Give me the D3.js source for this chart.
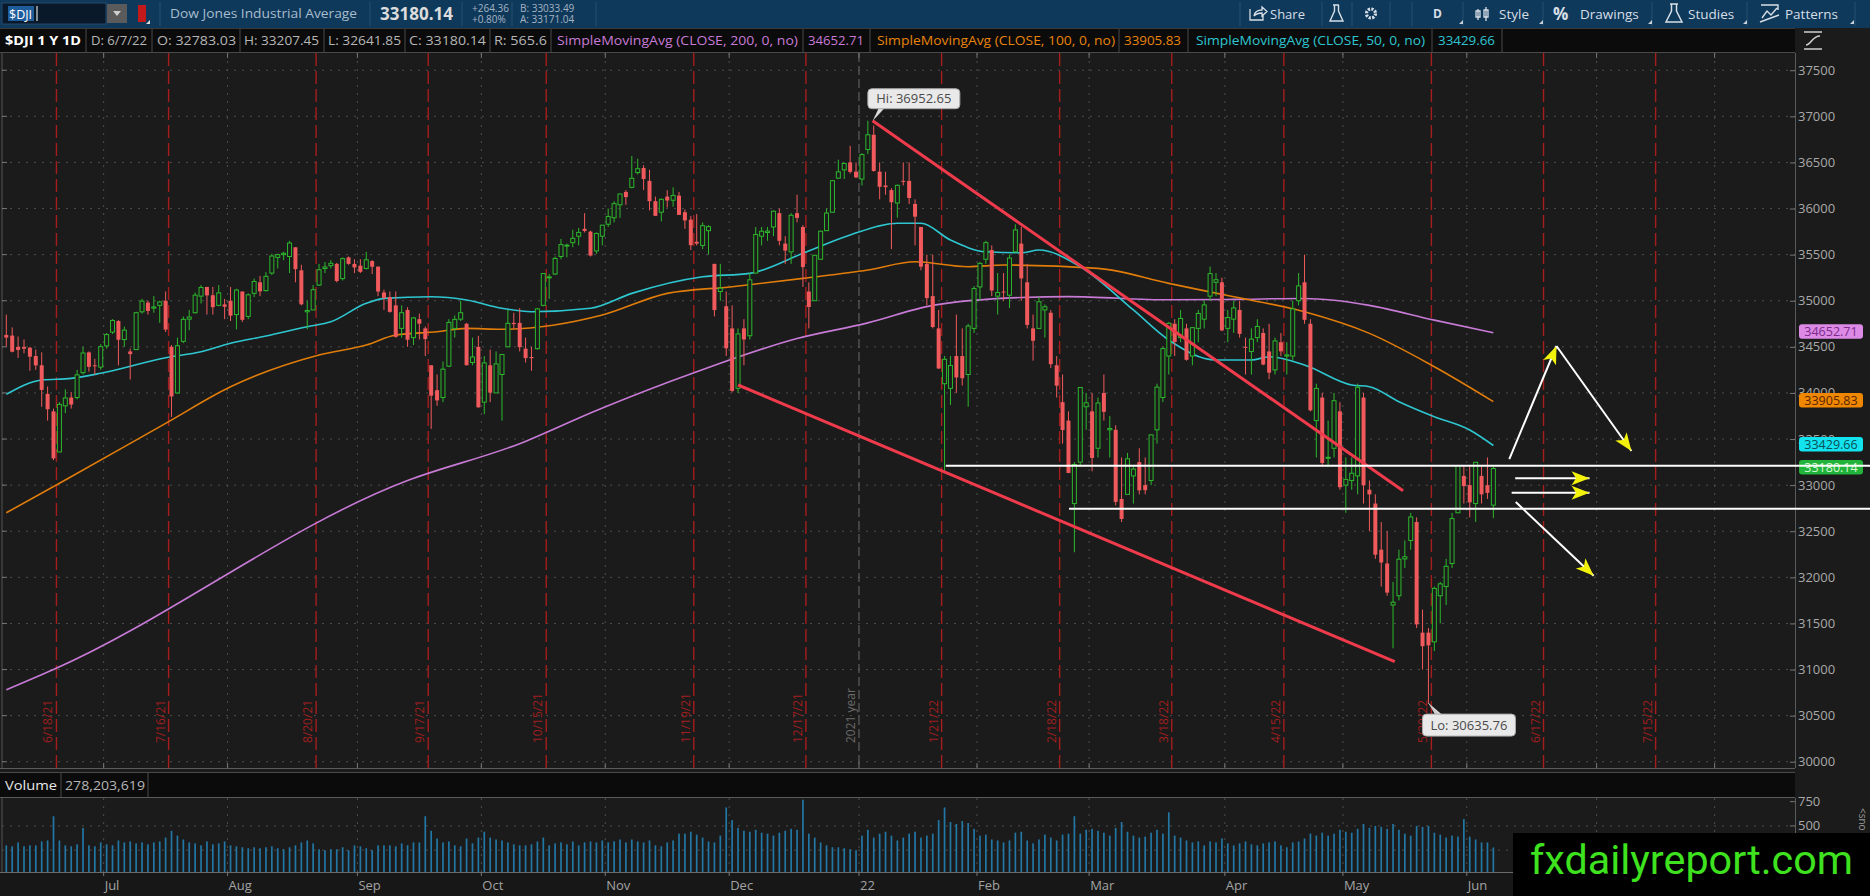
<!DOCTYPE html>
<html>
<head>
<meta charset="utf-8">
<script src="https://cdn.jsdelivr.net/npm/d3@7"></script>
<style>
  body { margin: 0; background: #1b1b1b; overflow: hidden; }
  svg { display: block; font-family: "Open Sans", "DejaVu Sans", sans-serif; }
</style>
</head>
<body>
<svg id="chart" width="1870" height="896"></svg>
<script>
// ---------------- data ----------------
const startDay = "2021-06-08";
const endDay = "2022-08-31";
const holidays = ["2021-07-05","2021-09-06","2021-11-25","2021-12-24","2022-01-17",
                  "2022-02-21","2022-04-15","2022-05-30","2022-07-04"];

const opens = [
  34630,34622,34500,34500,34490,34400,34300,33990,33800,33360,33860,33950,33950,34220,34440,34300,34280,
  34510,34660,34780,34580,34450,34470,34880,34980,34920,34950,35000,34500,34000,34560,34800,34870,35050,35150,35060,34950,34960,
  35000,34850,35100,34830,35080,35200,35110,35300,35470,35500,35480,35580,35330,34880,34900,35170,35350,35380,35400,35240,35470,35400,
  35380,35350,35430,35370,35090,35040,34950,34700,34900,34600,34800,34700,34300,34030,33950,34290,34700,34800,34750,34330,34500,
  33900,34300,34000,34200,34500,34760,34760,34480,34390,34480,34950,35250,35290,35480,35600,35630,35700,35780,35750,35540,35700,
  35830,35900,36040,36180,36230,36390,36440,36300,36080,35960,36130,36090,36140,35960,35880,35640,35600,35760,35400,35100,34940,
  34700,34050,34700,34620,35300,35700,35740,35800,35950,35620,35530,35950,35800,35100,35000,35450,35760,35960,36330,36420,36500,36400,
  36320,36640,36800,36400,36250,36200,36060,36300,36300,36050,35800,35400,35050,34700,34100,34050,34400,34400,34200,34700,
  35150,35450,35550,35050,35100,35060,35530,35620,35200,34700,34700,34900,34870,34300,33900,33700,32800,33250,33850,
  33800,33400,34000,33600,33600,32850,32900,33100,33250,33000,33050,33600,33950,34400,34750,34600,34700,34400,34700,34800,35050,35200,35200,
  34700,34800,34900,34500,34450,34600,34650,34450,34250,34550,34400,34400,35000,35200,34750,33700,33950,33300,33400,33800,
  33000,33050,33100,33950,32950,32800,32300,32150,31700,31800,32200,32400,32600,31400,31400,31300,31800,31900,32150,32700,33100,
  33000,32800,33100,33000,32783.03
];
const highs = [
  34849,34711,34612,34580,34500,34470,34440,34070,33830,33900,34040,34010,34250,34500,34450,34370,34530,
  34650,34800,34790,34720,34480,34880,35020,35000,35050,35000,35100,34520,34600,34830,34900,35090,35170,35150,35150,35170,35020,
  35150,35130,35100,35080,35240,35270,35310,35510,35510,35530,35650,35580,35390,35000,35170,35400,35420,35440,35410,35470,35480,35450,
  35450,35530,35440,35370,35120,35100,35100,34950,34930,34820,34860,34720,34300,34200,34340,34800,34840,35000,34760,34600,34620,
  34400,34470,34450,34420,34900,34870,34920,34600,34500,34920,35300,35290,35480,35670,35620,35770,35790,35950,35760,35740,35820,
  36000,36080,36160,36200,36570,36540,36470,36420,36130,36110,36200,36230,36180,35990,35920,35940,35850,35820,35400,35400,35100,
  34950,34700,34800,35300,35800,35800,35800,35980,36000,35700,35950,36150,35820,35200,35500,35760,36000,36310,36530,36500,36680,36500,
  36600,36952.65,36900,36500,36400,36220,36260,36500,36500,36100,35800,35500,35500,34900,34400,34400,34850,34700,34750,35160,
  35420,35650,35600,35300,35300,35500,35830,35800,35400,34850,35040,34960,34900,34400,34200,33800,33250,34060,34000,
  34000,33950,34200,33750,33650,33300,33350,33200,33400,33300,33550,34100,34500,34770,34800,34900,34750,34710,34900,35000,35370,35300,35250,
  34900,35000,35000,34600,34700,34800,34700,34750,34600,34650,34550,35000,35300,35500,34800,34100,34000,33700,34000,33900,
  33300,33300,34100,34000,33050,32900,32600,32500,31950,32300,32400,32700,32650,31650,31450,31900,31950,32200,32700,33220,33200,
  33200,33250,33200,33300,33207.45
];
const lows = [
  34500,34440,34380,34430,34240,34250,33850,33700,33271,33360,33780,33830,33930,34200,34230,34200,34250,
  34480,34640,34300,34500,34145,34470,34860,34850,34870,34760,34660,33740,33990,34540,34680,34860,34970,34850,34850,34940,34800,
  34780,34690,34770,34800,35040,35050,35100,35280,35350,35440,35300,35200,34950,34690,34900,35160,35300,35350,35200,35220,35390,35300,
  35300,35340,35290,35050,34900,34870,34600,34600,34500,34520,34580,34400,33610,33860,33900,34280,34600,34780,34300,34300,33840,
  33770,33900,34000,33700,34500,34700,34450,34330,34240,34470,34940,35020,35280,35450,35470,35580,35600,35740,35480,35510,35600,
  35800,35850,35900,36040,36220,36370,36200,35980,35920,35860,36010,36020,35930,35780,35550,35600,35560,35500,34830,35000,34400,
  34006,34000,34300,34580,35300,35600,35650,35700,35600,35400,35400,35850,35150,34700,35000,35450,35760,35960,36320,36320,36380,36330,
  36250,36590,36400,36100,36150,35560,35900,36250,36050,35600,35330,34950,34700,34260,33150,33870,34000,34080,33850,34650,
  35000,35400,35050,34850,35000,34920,35530,35000,34700,34350,34700,34600,34270,33950,33450,33130,32272,33200,33600,
  33150,33300,33700,33300,32780,32600,32900,32800,32900,32900,33000,33450,33900,34200,34400,34550,34350,34300,34550,34700,35000,35050,34670,
  34550,34650,34600,34200,34200,34550,34300,34150,34200,34400,34200,34350,34950,34750,33800,33300,33200,33200,33300,32950,
  32700,32950,32900,32800,32500,32200,31900,31800,31230,31750,32100,32300,31450,31000,30635.76,31200,31500,31700,32100,32700,32800,
  32650,32600,32800,32850,32641.85
];
const closes = [
  34600,34447,34466,34480,34393,34299,34033,33823,33290,33876,33945,33874,34196,34433,34283,34292,34502,
  34633,34786,34577,34681,34421,34870,34996,34889,34933,34987,34687,33962,34512,34798,34823,35061,35144,35058,34930,35085,34935,
  34838,35116,34793,35064,35209,35102,35265,35485,35500,35515,35626,35343,34961,34894,35120,35336,35366,35406,35214,35456,35400,35361,
  35313,35444,35369,35100,35031,34879,34608,34870,34577,34814,34751,34584,33970,33919,34258,34765,34798,34870,34300,34390,33844,
  34326,34003,34315,34417,34755,34746,34496,34378,34377,34912,35295,35259,35458,35609,35603,35677,35741,35757,35490,35730,35820,
  35913,36053,36158,36124,36328,36432,36320,36080,35921,36100,36087,36142,35931,35871,35602,35619,35814,35804,34899,35136,34484,
  34022,34640,34580,35227,35719,35754,35755,35971,35650,35544,35927,35898,35365,34932,35493,35754,35951,36302,36398,36488,36398,36338,
  36585,36800,36407,36236,36232,36068,36252,36290,36114,35912,35369,35029,34715,34265,34365,34298,34168,34160,34725,35132,
  35405,35630,35111,35089,35091,35463,35768,35242,34738,34566,34989,34935,34312,34079,33597,33132,33224,34059,33893,
  33295,33891,33795,33615,32818,32633,33286,33174,32944,32945,33545,34063,34481,34755,34553,34808,34359,34708,34862,34955,35294,35228,34678,
  34818,34922,34641,34497,34584,34721,34308,34220,34564,34451,34412,34911,35161,34793,33811,34049,33240,33302,33916,32977,
  33062,33129,34061,32998,32899,32246,32161,31834,31730,32197,32223,32655,31490,31253,31262,31880,31929,32120,32637,33213,32990,
  32813,33248,32900,32916,33180.14
];
// volume in millions
const volumes = [
  300,290,330,290,300,300,340,350,600,350,300,290,310,480,300,290,330,
  310,300,350,330,340,320,330,310,330,340,380,450,400,360,330,320,300,340,310,320,340,
  300,290,280,270,280,270,280,290,270,260,280,300,330,350,320,260,250,260,260,280,250,300,
  290,270,250,300,300,300,290,320,300,330,330,600,450,370,330,340,300,290,370,320,380,
  440,380,360,350,330,310,300,300,310,340,380,300,320,330,310,340,300,330,340,330,350,
  330,340,360,330,360,340,330,350,300,290,330,350,420,420,440,410,380,340,330,400,690,
  560,480,450,440,460,430,420,400,430,450,470,460,770,420,380,330,300,280,280,270,260,250,
  400,460,380,420,440,400,350,380,420,440,380,400,420,560,690,540,520,550,530,470,
  400,410,360,350,330,350,430,440,350,320,360,410,380,350,410,420,600,420,460,
  470,450,430,400,480,540,440,400,380,390,430,460,420,640,400,380,350,330,340,300,340,330,370,
  320,300,320,340,310,300,320,330,340,300,280,330,340,370,420,400,430,400,420,460,
  440,430,470,520,480,500,490,470,520,460,420,400,500,490,500,430,410,380,400,390,570,
  390,360,330,330,278
];

// moving averages as [bar index, value]
const sma200 = [[0,30780],[8,31000],[68,33050],[87,33450],[100,33810],[117,34230],[134,34590],
  [146,34760],[157,34950],[172,35035],[180,35045],[197,35010],[208,35015],[220,35025],
  [225,35005],[231,34950],[242,34790],[252,34652.71]];
const sma100 = [[0,32700],[10,33055],[27,33670],[38,34067],[53,34411],[61,34520],[66,34628],
  [73,34664],[78,34700],[84,34690],[101,34845],[112,35080],[123,35152],[135,35243],[146,35333],
  [154,35423],[163,35369],[169,35387],[185,35351],[197,35188],[208,35043],[220,34880],
  [231,34646],[242,34284],[252,33905.83]];
const sma50 = [[0,33985],[6,34140],[11,34158],[16,34213],[27,34382],[33,34447],[38,34538],
  [44,34617],[51,34718],[55,34772],[61,34972],[64,35026],[72,35043],[78,35008],[84,34918],
  [89,34881],[99,34918],[106,35080],[118,35260],[126,35297],[135,35514],[143,35713],
  [151,35840],[155,35840],[160,35658],[166,35531],[172,35520],[175,35550],[182,35369],
  [191,34900],[197,34574],[205,34357],[211,34357],[214,34393],[220,34303],[228,34086],
  [231,34068],[236,33905],[242,33742],[248,33598],[252,33429.66]];

const expiries = ["6/18/21","7/16/21","8/20/21","9/17/21","10/15/21","11/19/21","12/17/21",
  "1/21/22","2/18/22","3/18/22","4/15/22","5/20/22","6/17/22","7/15/22"];
const monthNames = ["Jul","Aug","Sep","Oct","Nov","Dec","22","Feb","Mar","Apr","May","Jun","Jul","Aug"];
const priceTicks = [30000,30500,31000,31500,32000,32500,33000,33500,34000,34500,35000,35500,36000,36500,37000,37500];
const volTicks = [750, 500];
const volGrid = [500, 250];

// hand drawn annotations, [bar index, price]
const upperTrend = [[146.8, 36952.65], [236.7, 32939]];
const lowerTrend = [[124.0, 34086], [235.3, 31085]];
const levelLines = [[[159.2, 33210], [316, 33210]], [[180.1, 32744], [316, 32744]]];
const arrows = [
  [[254.7, 33283], [262.7, 34509]],
  [[262.7, 34509], [275.4, 33370]],
  [[255.7, 33074], [268.3, 33074]],
  [[255.1, 32918], [268.3, 32918]],
  [[255.8, 32817], [269.0, 32017]]
];

// ---------------- layout ----------------
const svg = d3.select("#chart");
const W = 1870, H = 896;
const pTop = 53, pBot = 768, axX = 1795;
const vTop = 798, vBot = 872;
const nSlots = 304, x0 = 3.35, step = 5.901;

const x = d3.scaleLinear().domain([-0.5, nSlots - 0.5]).range([x0, x0 + step * nSlots]);
const y = d3.scaleLinear().domain([29932, 37687]).range([pBot, pTop]);
const yv = d3.scaleLinear().domain([25, 800]).range([vBot, 796.8]);

const upCol = "#2db82d", downCol = "#f05a5c";

// trading calendar (x categories)
const parseISO = d3.timeParse("%Y-%m-%d"), fmtISO = d3.timeFormat("%Y-%m-%d");
const parseUS = d3.timeParse("%m/%d/%y");
const tradeDays = d3.timeDay.range(parseISO(startDay), d3.timeDay.offset(parseISO(endDay), 1))
  .filter(d => d.getDay() % 6 !== 0 && !holidays.includes(fmtISO(d)));

const n = closes.length;
const bars = d3.range(n).map(i => ({i, o: opens[i], h: highs[i], l: lows[i], c: closes[i], v: volumes[i]}));

const monthStarts = [];
tradeDays.forEach((d, i) => {
  if (i > 0 && d.getMonth() !== tradeDays[i - 1].getMonth()) monthStarts.push({i, d});
});
monthStarts.forEach((m, k) => m.label = monthNames[k]);

const expiryIdx = expiries.map(s => {
  const d = parseUS(s);
  let idx = 0;
  tradeDays.forEach((t, i) => { if (t <= d) idx = i; });
  return {label: s, i: idx};
});

// ---------------- backgrounds ----------------
svg.append("rect").attr("width", W).attr("height", H).attr("fill", "#1b1b1b");
svg.append("rect").attr("x", 0).attr("y", 872).attr("width", W).attr("height", 24).attr("fill", "#171717");

// ---------------- header bar ----------------
const hdr = svg.append("g");
hdr.append("rect").attr("width", W).attr("height", 28).attr("fill", "#0f395b");
hdr.append("rect").attr("x", 2).attr("y", 3).attr("width", 104).attr("height", 21).attr("fill", "#09192a").attr("stroke", "#26496a");
hdr.append("rect").attr("x", 8).attr("y", 6).attr("width", 26).attr("height", 15).attr("fill", "#1f5c9c");
hdr.append("text").attr("x", 9).attr("y", 18.5).attr("font-size", 12.5).attr("fill", "#ffffff").text("$DJI");
hdr.append("line").attr("x1", 37).attr("x2", 37).attr("y1", 6).attr("y2", 21).attr("stroke", "#fff");
hdr.append("rect").attr("x", 107).attr("y", 4).attr("width", 20).attr("height", 19).attr("fill", "#5b5b5b");
hdr.append("path").attr("d", "M113,11 L121,11 L117,16 Z").attr("fill", "#cfcfcf");
hdr.append("rect").attr("x", 138).attr("y", 5).attr("width", 8).attr("height", 17).attr("fill", "#c21a1a");
hdr.append("path").attr("d", "M146,24 L150,24 L150,20 Z").attr("fill", "#ddd");

[160, 370, 462, 512, 596, 1240, 1322, 1352, 1390, 1412, 1463, 1543, 1652, 1747, 1855].forEach(xx =>
  hdr.append("line").attr("x1", xx).attr("x2", xx).attr("y1", 2).attr("y2", 26).attr("stroke", "#24506f"));

hdr.append("text").attr("x", 170).attr("y", 18).attr("font-size", 13.5).attr("fill", "#a9bccd")
  .attr("textLength", 187).attr("lengthAdjust", "spacingAndGlyphs").text("Dow Jones Industrial Average");
hdr.append("text").attr("x", 380).attr("y", 19.5).attr("font-size", 17).attr("font-weight", "bold").attr("fill", "#dcdcdc")
  .attr("textLength", 73).attr("lengthAdjust", "spacingAndGlyphs").text("33180.14");
hdr.append("text").attr("x", 472).attr("y", 11.5).attr("font-size", 10).attr("fill", "#a6b4c2").text("+264.36");
hdr.append("text").attr("x", 472).attr("y", 22.5).attr("font-size", 10).attr("fill", "#a6b4c2").text("+0.80%");
hdr.append("text").attr("x", 520).attr("y", 11.5).attr("font-size", 10).attr("fill", "#a6b4c2").text("B: 33033.49");
hdr.append("text").attr("x", 520).attr("y", 22.5).attr("font-size", 10).attr("fill", "#a6b4c2").text("A: 33171.04");

// right-hand buttons
const btnText = "#d6dee6";
hdr.append("path").attr("d", "M1250,9 L1250,20 L1263,20 L1263,15 M1254,16 Q1255,10 1262,10 L1262,7 L1267,11.5 L1262,16 L1262,13 Q1257,13 1254,16")
  .attr("fill", "none").attr("stroke", btnText).attr("stroke-width", 1.3);
hdr.append("text").attr("x", 1270).attr("y", 18.5).attr("font-size", 13).attr("fill", btnText).text("Share");
hdr.append("path").attr("d", "M1333,5 L1339,5 M1334.5,5 L1334.5,11 L1330,21 L1343,21 L1338.5,11 L1338.5,5")
  .attr("fill", "none").attr("stroke", btnText).attr("stroke-width", 1.4);
hdr.append("circle").attr("cx", 1371).attr("cy", 13.5).attr("r", 4.5).attr("fill", "none").attr("stroke", btnText).attr("stroke-width", 3.2).attr("stroke-dasharray", "2.2,1.3");
hdr.append("circle").attr("cx", 1371).attr("cy", 13.5).attr("r", 1.6).attr("fill", "#0f395b");
hdr.append("text").attr("x", 1433).attr("y", 18).attr("font-size", 12).attr("font-weight", "bold").attr("fill", btnText).text("D");
hdr.append("path").attr("d", "M1478,9 L1478,20 M1476,11 h4 v6 h-4 z M1486,7 L1486,21 M1484,10 h4 v7 h-4 z")
  .attr("fill", "none").attr("stroke", btnText).attr("stroke-width", 1.3);
hdr.append("text").attr("x", 1499).attr("y", 18.5).attr("font-size", 13.5).attr("fill", btnText).text("Style");
hdr.append("text").attr("x", 1553).attr("y", 20).attr("font-size", 17).attr("font-weight", "bold").attr("fill", btnText).text("%");
hdr.append("text").attr("x", 1580).attr("y", 18.5).attr("font-size", 13.5).attr("fill", btnText).text("Drawings");
hdr.append("path").attr("d", "M1670,4 L1678,4 M1671.5,4 L1671.5,11 L1666,22 L1682,22 L1676.5,11 L1676.5,4")
  .attr("fill", "none").attr("stroke", btnText).attr("stroke-width", 1.5);
hdr.append("text").attr("x", 1688).attr("y", 18.5).attr("font-size", 13.5).attr("fill", btnText).text("Studies");
hdr.append("path").attr("d", "M1761,5 L1778,5 L1778,10 M1762,18 L1767,11 L1771,15 L1777,8 M1760,22 L1779,15")
  .attr("fill", "none").attr("stroke", btnText).attr("stroke-width", 1.4);
hdr.append("text").attr("x", 1785).attr("y", 18.5).attr("font-size", 13.5).attr("fill", btnText).text("Patterns");
[1459, 1539, 1648, 1743, 1850].forEach(xx =>
  hdr.append("path").attr("d", `M${xx},24 L${xx + 4},24 L${xx + 4},20 Z`).attr("fill", "#c8d2dc"));

// ---------------- info row ----------------
const info = svg.append("g");
info.append("rect").attr("x", 0).attr("y", 28).attr("width", axX).attr("height", 25).attr("fill", "#0b0b0b");
info.append("line").attr("x1", 0).attr("x2", axX).attr("y1", 28.5).attr("y2", 28.5).attr("stroke", "#3a3a3a");
info.append("line").attr("x1", 0).attr("x2", axX).attr("y1", 52.5).attr("y2", 52.5).attr("stroke", "#4a4a4a");
const infoItems = [
  ["$DJI 1 Y 1D", 5, 76, "#ffffff", true],
  ["D: 6/7/22", 91, 56, "#b6b6b6"],
  ["O: 32783.03", 157, 79, "#b6b6b6"],
  ["H: 33207.45", 244, 75, "#b6b6b6"],
  ["L: 32641.85", 328, 73, "#b6b6b6"],
  ["C: 33180.14", 409, 77, "#b6b6b6"],
  ["R: 565.6", 494, 53, "#b6b6b6"],
  ["SimpleMovingAvg (CLOSE, 200, 0, no)", 557, 241, "#c77ad6"],
  ["34652.71", 808, 56, "#c77ad6"],
  ["SimpleMovingAvg (CLOSE, 100, 0, no)", 877, 238, "#e8830c"],
  ["33905.83", 1124, 57, "#e8830c"],
  ["SimpleMovingAvg (CLOSE, 50, 0, no)", 1196, 229, "#2ec6d0"],
  ["33429.66", 1438, 57, "#2ec6d0"]
];
infoItems.forEach(([t, xx, w, col, bold]) => {
  info.append("text").attr("x", xx).attr("y", 45).attr("font-size", 13).attr("fill", col)
    .attr("font-weight", bold ? "bold" : "normal")
    .attr("textLength", w).attr("lengthAdjust", "spacingAndGlyphs").text(t);
});
[86, 152, 240, 324, 405, 490, 551, 803, 870, 1119, 1188, 1432, 1502].forEach(xx =>
  info.append("line").attr("x1", xx).attr("x2", xx).attr("y1", 29).attr("y2", 52).attr("stroke", "#4a4a4a"));
// auto-scale icon on the axis column
info.append("path").attr("d", "M1804,32 L1822,32 M1804,49 L1822,49 M1806,45 C1811,45 1812,36 1820,36")
  .attr("fill", "none").attr("stroke", "#cfcfcf").attr("stroke-width", 1.6);

// ---------------- price panel ----------------
svg.append("clipPath").attr("id", "pclip").append("rect")
  .attr("x", 2).attr("y", pTop).attr("width", axX - 2).attr("height", pBot - pTop);
const gP = svg.append("g").attr("clip-path", "url(#pclip)");

// grid
gP.selectAll("line.hgrid").data(priceTicks).join("line")
  .attr("x1", 2).attr("x2", axX).attr("y1", d => y(d)).attr("y2", d => y(d))
  .attr("stroke", "#4e4e4e").attr("stroke-dasharray", "2,6");
gP.selectAll("line.vgrid").data(monthStarts).join("line")
  .attr("x1", d => x(d.i - 0.5)).attr("x2", d => x(d.i - 0.5)).attr("y1", pTop).attr("y2", pBot)
  .attr("stroke", d => d.d.getMonth() === 0 ? "#6c6c6c" : "#4e4e4e")
  .attr("stroke-dasharray", d => d.d.getMonth() === 0 ? "9,4" : "2,6");
const yearStart = monthStarts.find(m => m.d.getMonth() === 0);
gP.append("text")
  .attr("transform", `translate(${x(yearStart.i - 0.5) - 4},743) rotate(-90)`)
  .attr("font-size", 12).attr("fill", "#6a6a6a").text("2021 year");

// option expiry markers
gP.selectAll("line.exp").data(expiryIdx).join("line")
  .attr("x1", d => x(d.i + 0.5)).attr("x2", d => x(d.i + 0.5)).attr("y1", pTop).attr("y2", pBot)
  .attr("stroke", "#a51d1d").attr("stroke-width", 1.4).attr("stroke-dasharray", "13,5");
gP.selectAll("text.exp").data(expiryIdx).join("text")
  .attr("transform", d => `translate(${x(d.i + 0.5) - 4},743) rotate(-90)`)
  .attr("font-size", 12).attr("fill", "#a01e1e").text(d => d.label);

// moving averages
const maLine = d3.line().x(d => x(d[0])).y(d => y(d[1])).curve(d3.curveMonotoneX);
[[sma200, "#c77ad6"], [sma100, "#e07c0a"], [sma50, "#2ec6d0"]].forEach(([pts, col]) =>
  gP.append("path").attr("d", maLine(pts)).attr("fill", "none").attr("stroke", col).attr("stroke-width", 1.6));

// candles
gP.selectAll("line.wick").data(bars).join("line")
  .attr("x1", d => x(d.i)).attr("x2", d => x(d.i))
  .attr("y1", d => y(d.h)).attr("y2", d => y(d.l))
  .attr("stroke", d => d.c >= d.o ? upCol : downCol).attr("stroke-width", 1);
gP.selectAll("rect.body").data(bars).join("rect")
  .attr("x", d => x(d.i) - 2).attr("width", 4)
  .attr("y", d => y(Math.max(d.o, d.c)))
  .attr("height", d => Math.max(1, Math.abs(y(d.o) - y(d.c))))
  .attr("fill", d => d.c >= d.o ? "#1b1b1b" : downCol)
  .attr("stroke", d => d.c >= d.o ? upCol : "none").attr("stroke-width", 1);

// trend lines
[upperTrend, lowerTrend].forEach(seg =>
  gP.append("line")
    .attr("x1", x(seg[0][0])).attr("y1", y(seg[0][1]))
    .attr("x2", x(seg[1][0])).attr("y2", y(seg[1][1]))
    .attr("stroke", "#ef3b4b").attr("stroke-width", 3));

// arrows
arrows.forEach(([a, b]) => {
  const ax = x(a[0]), ay = y(a[1]), bx = x(b[0]), by = y(b[1]);
  const len = Math.hypot(bx - ax, by - ay), ux = (bx - ax) / len, uy = (by - ay) / len;
  gP.append("line").attr("x1", ax).attr("y1", ay).attr("x2", bx).attr("y2", by)
    .attr("stroke", "#ffffff").attr("stroke-width", 2);
  const hl = 18, hw = 7;
  const pts = [[bx, by],
    [bx - ux * hl - uy * hw, by - uy * hl + ux * hw],
    [bx - ux * hl * 0.75, by - uy * hl * 0.75],
    [bx - ux * hl + uy * hw, by - uy * hl - ux * hw]];
  gP.append("polygon").attr("points", pts.map(p => p.join(",")).join(" ")).attr("fill", "#f2f20a");
});

// high / low callouts
const hiIdx = d3.maxIndex(highs), loIdx = d3.minIndex(lows);
{
  const px = x(hiIdx) + 5, py = y(highs[hiIdx]);
  gP.append("path").attr("d", `M${px},${py} L${px + 6},${py - 13} L${px + 12},${py - 13} Z`).attr("fill", "#dcdcdc");
  gP.append("rect").attr("x", px - 5).attr("y", py - 32).attr("width", 92).attr("height", 20).attr("rx", 4)
    .attr("fill", "#e9e9e9").attr("stroke", "#a9a9a9");
  gP.append("text").attr("x", px + 41).attr("y", py - 17.5).attr("text-anchor", "middle")
    .attr("font-size", 13).attr("fill", "#4a4a4a").text("Hi: " + d3.format(".2f")(highs[hiIdx]));
}
{
  const px = x(loIdx), py = y(lows[loIdx]);
  gP.append("path").attr("d", `M${px},${py} L${px + 7},${py + 12} L${px + 14},${py + 12} Z`).attr("fill", "#dcdcdc");
  gP.append("line").attr("x1", px).attr("y1", py).attr("x2", px + 9).attr("y2", py + 11).attr("stroke", "#bdbdbd");
  gP.append("rect").attr("x", px - 6).attr("y", py + 11).attr("width", 93).attr("height", 22).attr("rx", 4)
    .attr("fill", "#e9e9e9").attr("stroke", "#a9a9a9");
  gP.append("text").attr("x", px + 40.5).attr("y", py + 27).attr("text-anchor", "middle")
    .attr("font-size", 13).attr("fill", "#4a4a4a").text("Lo: " + d3.format(".2f")(lows[loIdx]));
}

// panel frame and ticks
svg.append("line").attr("x1", 2).attr("x2", 2).attr("y1", pTop).attr("y2", pBot).attr("stroke", "#555");
svg.append("line").attr("x1", 0).attr("x2", axX).attr("y1", pBot + 0.5).attr("y2", pBot + 0.5).attr("stroke", "#5a5a5a");
svg.selectAll("line.lt").data(priceTicks).join("line")
  .attr("x1", 2).attr("x2", 7).attr("y1", d => y(d)).attr("y2", d => y(d)).attr("stroke", "#777");
svg.selectAll("line.mt").data(monthStarts).join("line")
  .attr("x1", d => x(d.i - 0.5)).attr("x2", d => x(d.i - 0.5)).attr("y1", pTop).attr("y2", pTop + 5).attr("stroke", "#777");
svg.selectAll("line.mb").data(monthStarts).join("line")
  .attr("x1", d => x(d.i - 0.5)).attr("x2", d => x(d.i - 0.5)).attr("y1", pBot - 5).attr("y2", pBot).attr("stroke", "#777");

// right price axis
svg.append("line").attr("x1", axX + 0.5).attr("x2", axX + 0.5).attr("y1", pTop).attr("y2", pBot).attr("stroke", "#5a5a5a");
const gAx = svg.append("g").attr("transform", `translate(${axX},0)`)
  .call(d3.axisLeft(y).tickValues(priceTicks).tickSize(5).tickFormat(""));
gAx.select(".domain").remove();
gAx.selectAll(".tick line").attr("stroke", "#777");
svg.selectAll("text.pl").data(priceTicks).join("text")
  .attr("x", axX + 3).attr("y", d => y(d) + 4.5).attr("font-size", 13).attr("fill", "#a9a9a9").text(d => d);

// value badges
const badges = [
  [sma200[sma200.length - 1][1], "#dc8ae6", "#7d2b8a"],
  [sma100[sma100.length - 1][1], "#ef8700", "#5a2500"],
  [sma50[sma50.length - 1][1], "#12e3ee", "#0b4e58"],
  [closes[n - 1], "#22b33a", "#d4f7d4"]
];
badges.forEach(([v, bg, fg]) => {
  svg.append("rect").attr("x", axX + 4).attr("y", y(v) - 8.5).attr("width", 64).attr("height", 14.5).attr("rx", 3)
    .attr("fill", bg);
  svg.append("text").attr("x", axX + 36).attr("y", y(v) + 3.5).attr("text-anchor", "middle")
    .attr("font-size", 12.5).attr("fill", fg).text(d3.format(".2f")(v));
});

// white support / resistance lines, drawn on top of the axis
levelLines.forEach(([a, b]) =>
  svg.append("line").attr("x1", x(a[0])).attr("y1", y(a[1])).attr("x2", Math.min(W, x(b[0]))).attr("y2", y(b[1]))
    .attr("stroke", "#ffffff").attr("stroke-width", 2));

// ---------------- volume ----------------
svg.append("rect").attr("x", 0).attr("y", 772).attr("width", axX).attr("height", 26).attr("fill", "#0b0b0b");
svg.append("line").attr("x1", 0).attr("x2", axX).attr("y1", 772.5).attr("y2", 772.5).attr("stroke", "#4a4a4a");
svg.append("line").attr("x1", 0).attr("x2", axX).attr("y1", 797.5).attr("y2", 797.5).attr("stroke", "#5a5a5a");
svg.append("text").attr("x", 5).attr("y", 790).attr("font-size", 13).attr("fill", "#e6e6e6")
  .attr("textLength", 52).attr("lengthAdjust", "spacingAndGlyphs").text("Volume");
svg.append("line").attr("x1", 61).attr("x2", 61).attr("y1", 773).attr("y2", 797).attr("stroke", "#4a4a4a");
svg.append("text").attr("x", 65).attr("y", 790).attr("font-size", 13).attr("fill", "#b6b6b6")
  .attr("textLength", 80).attr("lengthAdjust", "spacingAndGlyphs").text(d3.format(",")(278203619));
svg.append("line").attr("x1", 148).attr("x2", 148).attr("y1", 773).attr("y2", 797).attr("stroke", "#4a4a4a");

const gV = svg.append("g");
gV.selectAll("line.vg").data(volGrid).join("line")
  .attr("x1", 2).attr("x2", axX).attr("y1", d => yv(d)).attr("y2", d => yv(d))
  .attr("stroke", "#4e4e4e").attr("stroke-dasharray", "2,6");
gV.selectAll("line.vm").data(monthStarts).join("line")
  .attr("x1", d => x(d.i - 0.5)).attr("x2", d => x(d.i - 0.5)).attr("y1", vTop).attr("y2", vBot)
  .attr("stroke", "#4e4e4e").attr("stroke-dasharray", "2,6");
gV.selectAll("rect.vol").data(bars).join("rect")
  .attr("x", d => x(d.i) - 0.85).attr("width", 1.7)
  .attr("y", d => yv(d.v)).attr("height", d => vBot - yv(d.v))
  .attr("fill", "#2277a4");
svg.append("line").attr("x1", axX + 0.5).attr("x2", axX + 0.5).attr("y1", vTop).attr("y2", vBot).attr("stroke", "#5a5a5a");
svg.append("line").attr("x1", 2).attr("x2", 2).attr("y1", vTop).attr("y2", vBot).attr("stroke", "#555");
svg.selectAll("text.vl").data(volTicks).join("text")
  .attr("x", axX + 3).attr("y", d => yv(d) + 4.5).attr("font-size", 13).attr("fill", "#a9a9a9").text(d => d);
svg.selectAll("line.vt").data(volTicks).join("line")
  .attr("x1", axX - 5).attr("x2", axX).attr("y1", d => yv(d)).attr("y2", d => yv(d)).attr("stroke", "#777");
svg.append("line").attr("x1", 0).attr("x2", W).attr("y1", vBot + 0.5).attr("y2", vBot + 0.5).attr("stroke", "#6a6a6a");
svg.append("text").attr("transform", "translate(1859,808) rotate(90)").attr("font-size", 10).attr("fill", "#9a9a9a").text("<sno");

// ---------------- month labels ----------------
svg.selectAll("text.month").data(monthStarts).join("text")
  .attr("x", d => x(d.i - 0.5) + 1).attr("y", 890).attr("font-size", 13).attr("fill", "#a3a3a3")
  .text(d => d.label);
svg.selectAll("line.mtk").data(monthStarts).join("line")
  .attr("x1", d => x(d.i - 0.5)).attr("x2", d => x(d.i - 0.5)).attr("y1", vBot).attr("y2", vBot + 4).attr("stroke", "#777");

// ---------------- watermark ----------------
svg.append("rect").attr("x", 1513).attr("y", 833).attr("width", W - 1513).attr("height", H - 833).attr("fill", "#000");
svg.append("text").attr("x", 1530).attr("y", 874).attr("font-size", 41)
  .attr("font-family", "'Liberation Sans Narrow', 'Roboto', sans-serif")
  .attr("fill", "#3ee21f").attr("textLength", 323).attr("lengthAdjust", "spacingAndGlyphs")
  .text("fxdailyreport.com");
</script>
</body>
</html>
